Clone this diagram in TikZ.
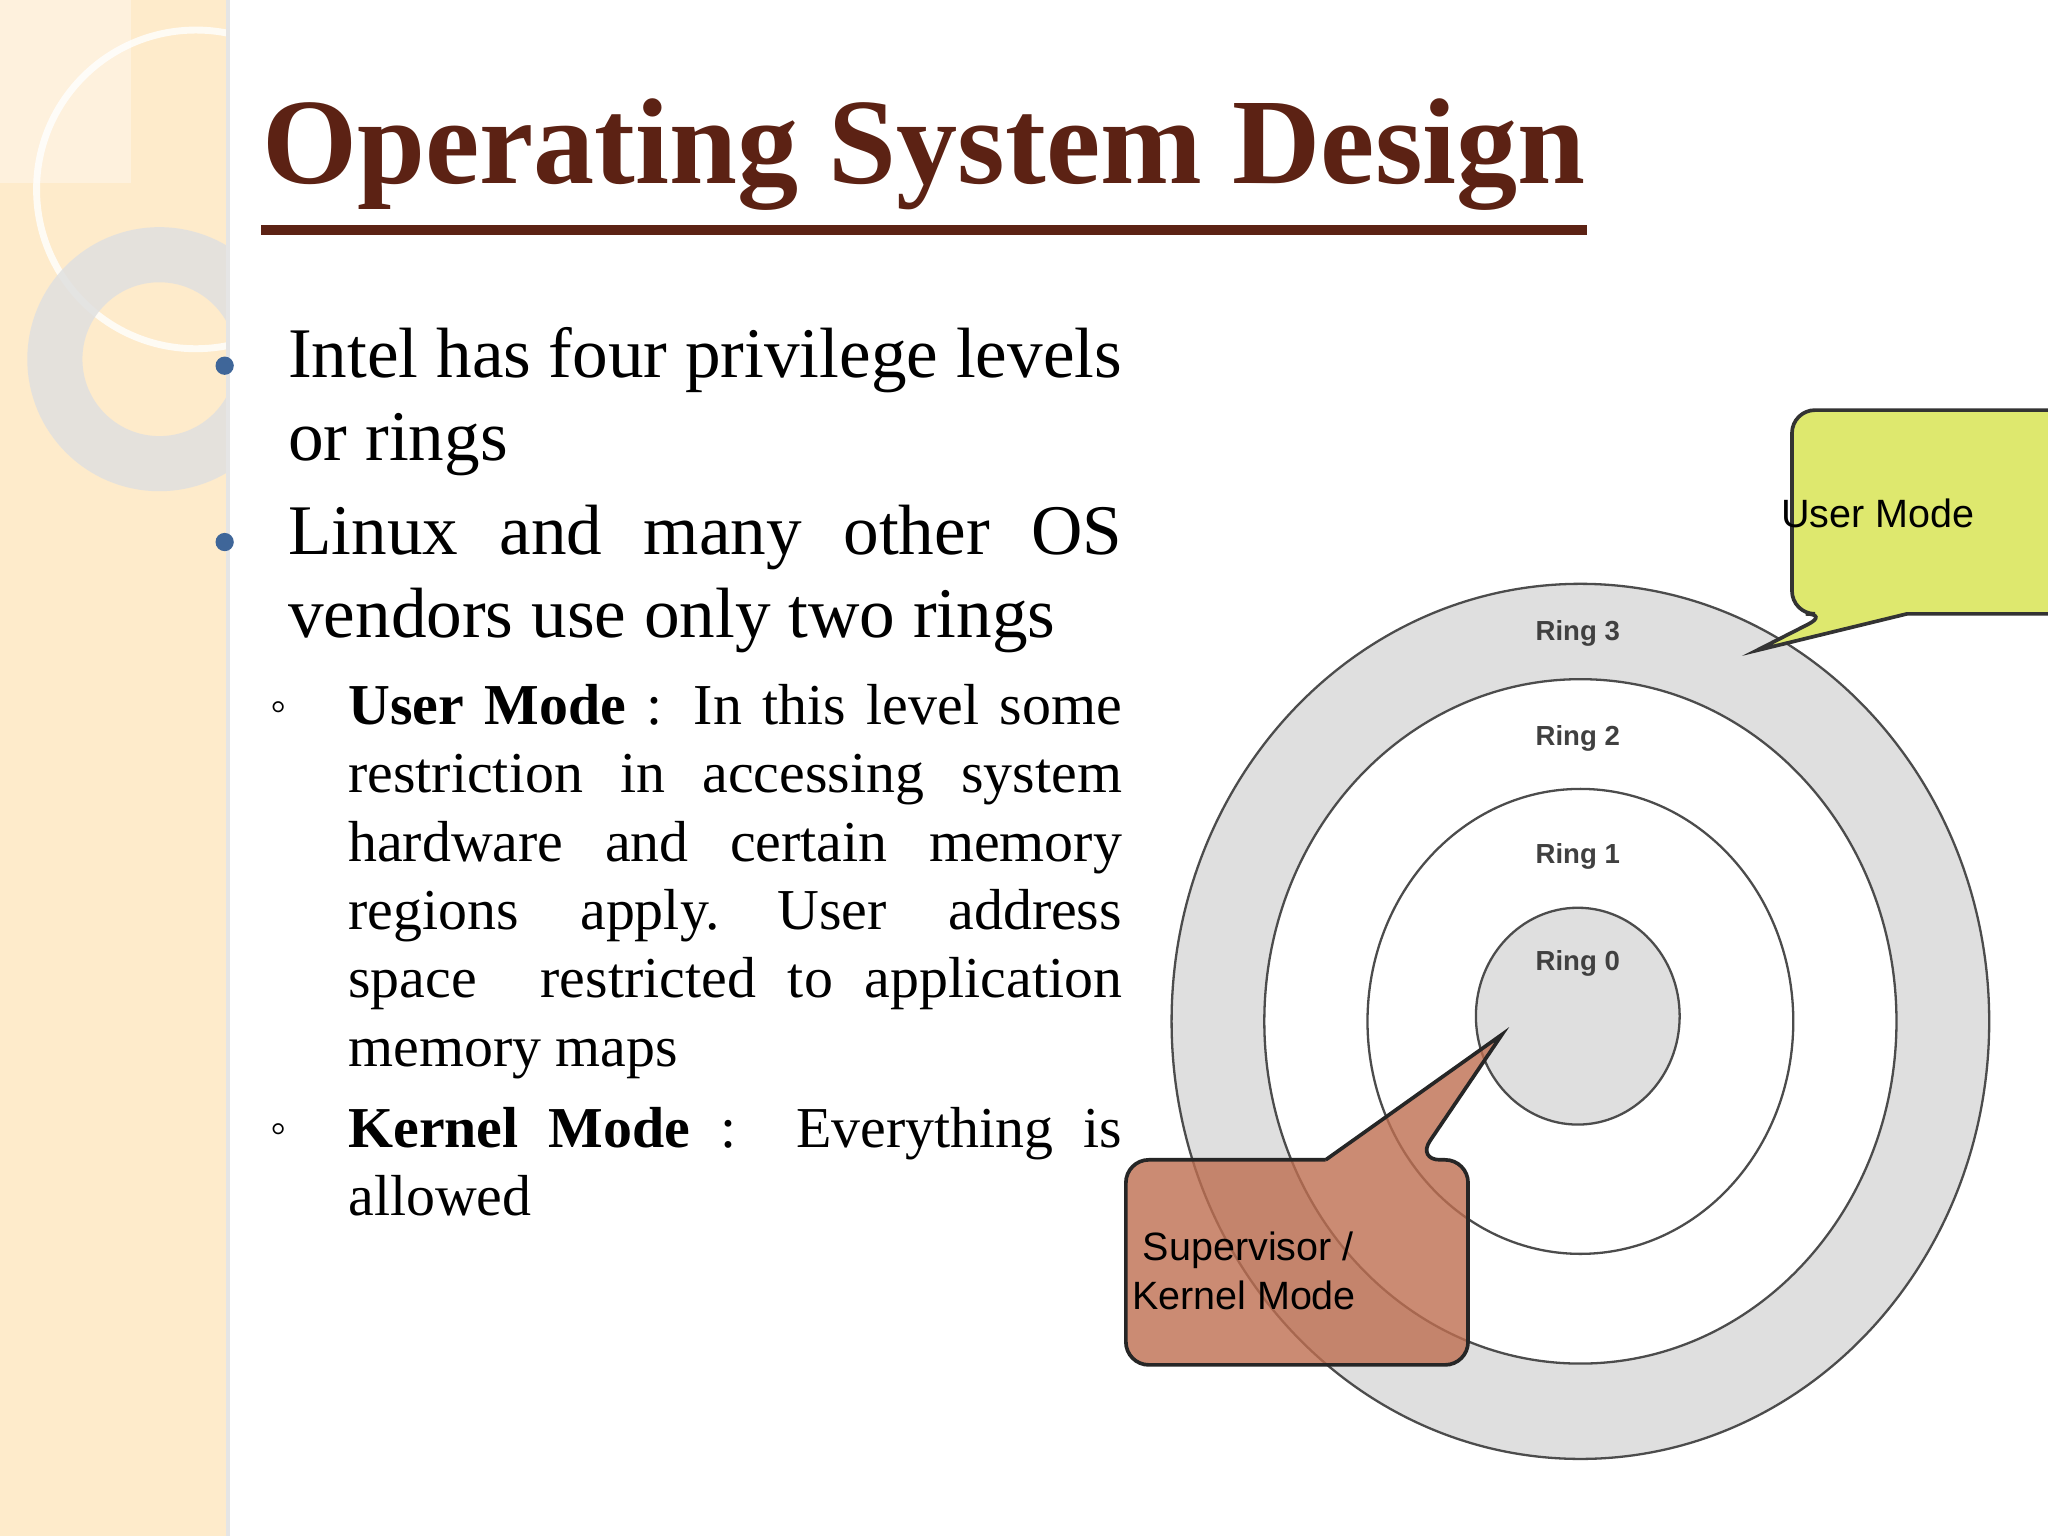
\documentclass[tikz,border=0pt]{standalone}
\usepackage{fontspec}
\setmainfont{Liberation Serif}
\newfontfamily\sfx{Liberation Sans}
\definecolor{titlec}{RGB}{92,34,20}
\definecolor{umc}{RGB}{222,232,110}
\definecolor{kmc}{RGB}{190,110,80}
\begin{document}
\begin{tikzpicture}[x=0.01cm,y=-0.01cm,
  ring/.style={draw=black!70,line width=0.5pt},
  body/.style={anchor=north west,inner sep=0,align=justify,font=\fontsize{15.5}{18}\selectfont},
  sub/.style={anchor=north west,inner sep=0,align=justify,font=\fontsize{12.6}{14.9}\selectfont},
  ringlbl/.style={font=\sfx\fontsize{6}{7}\selectfont\bfseries,text=black!75},
  callt/.style={font=\sfx\fontsize{8.6}{10.5}\selectfont,align=left,anchor=west,inner sep=0}]
\useasboundingbox (0,0) rectangle (1568,1176);
\fill[white] (0,0) rectangle (1568,1176);
% left strip
\fill[yellow!20!orange!18] (0,0) rectangle (173,1176);
\begin{scope}
\clip (0,0) rectangle (173,1176);
\fill[white,opacity=0.35] (0,0) rectangle (100,140);
\draw[white,opacity=0.8,line width=1.5pt] (150,145) circle (122);
\draw[white!88!black,opacity=0.85,line width=12pt] (122,275) circle (80);
\end{scope}
\fill[black!10] (173,0) rectangle (176,1176);
% title
\node[anchor=south west,inner sep=0,text=titlec,font=\fontsize{26.6}{30}\selectfont\bfseries] (title) at (200,162) {Operating System Design};
\draw[titlec,line width=2.2pt] ([yshift=-4pt]title.south west) -- ([yshift=-4pt]title.south east);
% bullets
\fill[cyan!50!blue!70!black] (172,280) circle (7) (172,415) circle (7);
\node[body,text width=6.38cm] (b1) at (220,250) {Intel has four privilege levels\linebreak or rings};
\node[body,text width=6.38cm] (b2) at (220,386) {Linux and many other OS\linebreak vendors use only two rings};
\node[font=\fontsize{10}{10}\selectfont] (c1) at (213,545) {◦};
\node[font=\fontsize{10}{10}\selectfont] (c2) at (213,868) {◦};
\node[sub,text width=5.92cm] (s1) at (266,523) {\textbf{User Mode} : In this level some\linebreak restriction in accessing system\linebreak hardware and certain memory\linebreak regions apply.\quad User address\linebreak space\ \ restricted to application\linebreak memory maps};
\node[sub,text width=5.92cm] (s2) at (266,847) {\textbf{Kernel Mode} :\ \ Everything is\linebreak allowed};
% rings
\fill[ring,fill=gray!25] (1210,782) ellipse[x radius=313,y radius=335];
\fill[ring,fill=white] (1210,782) ellipse[x radius=242,y radius=262];
\draw[ring] (1210,782) ellipse[x radius=163,y radius=178];
\fill[ring,fill=gray!25] (1208,778) ellipse[x radius=78,y radius=83];
\node[ringlbl] (r3) at (1208,485) {Ring 3};
\node[ringlbl] (r2) at (1208,565) {Ring 2};
\node[ringlbl] (r1) at (1208,656) {Ring 1};
\node[ringlbl] (r0) at (1208,738) {Ring 0};
% user mode callout
\draw[black!80,fill=umc,line width=0.8pt,rounded corners=5pt]
  (1600,314) -- (1372,314) -- (1372,470) -- (1400,470) [sharp corners] -- (1345,498) -- (1460,470) [rounded corners=5pt] -- (1600,470);
\node[callt] (um) at (1363,393) {User Mode};
% supervisor callout
\draw[black!85,fill=kmc,fill opacity=0.8,line width=0.8pt,rounded corners=5pt]
  (1015,888) -- (862,888) -- (862,1045) -- (1124,1045) -- (1124,888) -- (1085,888) [sharp corners] -- (1150,792) -- (1015,888);
\node[callt] (km) at (866,973) {\ Supervisor /\\Kernel Mode};
\end{tikzpicture}
\end{document}
